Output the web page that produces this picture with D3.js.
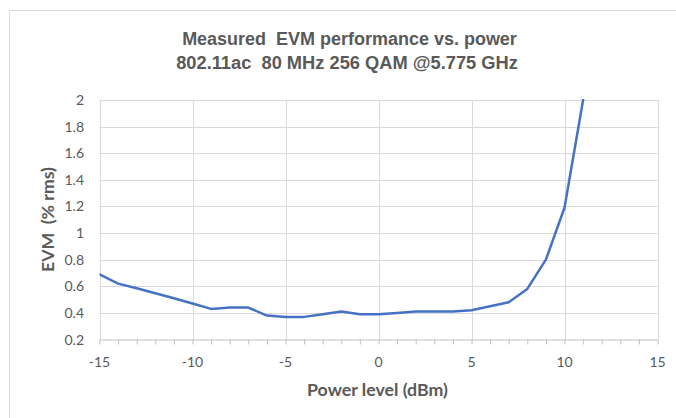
<!DOCTYPE html>
<html><head><meta charset="utf-8">
<script src="https://cdn.jsdelivr.net/npm/d3@7"></script>
<style>
html,body{margin:0;padding:0;background:#fff;}
svg{display:block;}
</style></head>
<body>
<svg id="chart" width="676" height="418"></svg>
<script>
const powerLevels = [-15,-14,-13,-12,-11,-10,-9,-8,-7,-6,-5,-4,-3,-2,-1,0,1,2,3,4,5,6,7,8,9,10,11];
const evmValues = [0.69,0.62,0.585,0.548,0.51,0.47,0.43,0.44,0.44,0.38,0.37,0.37,0.39,0.41,0.39,0.39,0.40,0.41,0.41,0.41,0.42,0.45,0.48,0.58,0.80,1.19,2.0];
const xTicks = [-15,-10,-5,0,5,10,15];
const yTicks = [0.2,0.4,0.6,0.8,1,1.2,1.4,1.6,1.8,2];
const titleLines = ["Measured  EVM performance vs. power","802.11ac  80 MHz 256 QAM @5.775 GHz"];
const xLabel = "Power level (dBm)";
const yLabel = "EVM  (% rms)";

const svg = d3.select("#chart");
const L = 99.5, R = 657.5, T = 100, B = 339.5;
const x = d3.scaleLinear().domain([-15,15]).range([L,R]);
const y = d3.scaleLinear().domain([0.2,2]).range([B,T]);
const tickFont = "Lato, 'Open Sans', sans-serif";

// fit a text horizontally (in its own frame) to a target width
function fitText(sel, cx, cy, rot, target) {
  sel.attr("x",0).attr("y",0).attr("text-anchor","middle");
  const w = sel.node().getComputedTextLength();
  const s = target / w;
  sel.attr("transform",`translate(${cx},${cy}) rotate(${rot}) scale(${s},1)`);
}

// chart area border (top/left visible)
svg.append("path").attr("d","M9.5,420 V10.5 H680").attr("fill","none").attr("stroke","#d9d9d9").attr("stroke-width",1);

// gridlines
svg.append("g").selectAll("line").data(yTicks.filter(d=>d>0.2)).join("line")
  .attr("x1",L).attr("x2",R).attr("y1",d=>Math.round(y(d))+0.5).attr("y2",d=>Math.round(y(d))+0.5)
  .attr("stroke","#d9d9d9").attr("stroke-width",1);
svg.append("g").selectAll("line").data(xTicks).join("line")
  .attr("x1",d=>Math.round(x(d))+0.5).attr("x2",d=>Math.round(x(d))+0.5).attr("y1",T).attr("y2",B)
  .attr("stroke","#d9d9d9").attr("stroke-width",1);

// x axis with minor ticks
const xAxis = d3.axisBottom(x).tickValues(d3.range(-15,16,1)).tickSize(5).tickFormat("");
const gx = svg.append("g").attr("transform",`translate(0,${B})`).call(xAxis);
gx.select(".domain").attr("stroke","#bfbfbf").attr("d",`M${L},0.5H${R}`);
gx.selectAll(".tick line").attr("stroke","#bfbfbf");
svg.append("g").selectAll("text").data(xTicks).join("text")
  .attr("x",d=>x(d)).attr("y",B+27).attr("text-anchor","middle")
  .attr("font-family",tickFont).attr("font-size",14).attr("fill","#595959").text(d=>d);

// y tick labels
svg.append("g").selectAll("text").data(yTicks).join("text")
  .attr("x",84).attr("y",d=>y(d)+5).attr("text-anchor","end")
  .attr("font-family",tickFont).attr("font-size",14).attr("fill","#595959").text(d=>d);

// line
svg.append("clipPath").attr("id","clip").append("rect").attr("x",L).attr("y",T-1).attr("width",R-L).attr("height",B-T+1);
const line = d3.line().x((d,i)=>x(powerLevels[i])).y(d=>y(d));
svg.append("path").datum(evmValues).attr("clip-path","url(#clip)")
  .attr("d",line).attr("fill","none").attr("stroke","#4472C4").attr("stroke-width",2.5)
  .attr("stroke-linejoin","round").attr("stroke-linecap","round");

// titles
const titleWidths = [335, 342];
const titleCenters = [349.5, 347];
svg.append("g").selectAll("text").data(titleLines).join("text")
  .attr("font-family","'Liberation Sans',Arial,sans-serif")
  .attr("font-weight","bold").attr("font-size",18.5).attr("fill","#595959")
  .style("white-space","pre").text(d=>d)
  .each(function(d,i){ fitText(d3.select(this), titleCenters[i], 45+i*23.5, 0, titleWidths[i]); });

// axis titles
svg.append("text")
  .attr("font-family",tickFont).attr("font-weight","bold").attr("font-size",16.5).attr("fill","#595959").text(xLabel)
  .call(s=>fitText(s, 377.5, 396, 0, 141));
svg.append("text")
  .attr("font-family",tickFont).attr("font-weight","bold").attr("font-size",16.5).attr("fill","#595959")
  .style("white-space","pre").text(yLabel)
  .call(s=>fitText(s, 54, 219.5, -90, 105));
</script>
</body></html>
